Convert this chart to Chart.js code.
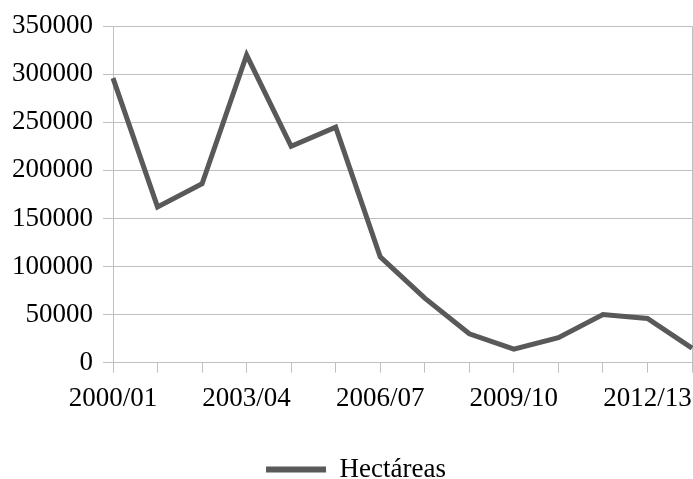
<!DOCTYPE html>
<html><head><meta charset="utf-8">
<script src="https://cdn.jsdelivr.net/npm/chart.js@4"></script>
<style>html,body{margin:0;padding:0;background:#fff}#wrap{width:693px;height:479px}</style>
</head><body><div id="wrap"><canvas id="c"></canvas></div>
<script>
const categories = ["2000/01","2001/02","2002/03","2003/04","2004/05","2005/06","2006/07","2007/08","2008/09","2009/10","2010/11","2011/12","2012/13","2013/14"];
const hectareas = [296000,162000,186000,320000,225000,245000,110000,67000,30000,14000,26000,50000,46000,15000];
const seriesName = "Hectáreas";
const yTicks = [0,50000,100000,150000,200000,250000,300000,350000];

const FONT = "'Liberation Serif', 'Times New Roman', serif";
Chart.defaults.font.family = FONT;
Chart.defaults.color = '#000';

const legendShift = {
  id: 'legendShift',
  afterLayout(chart) {
    if (chart.legend) { chart.legend.left += 9; chart.legend.right += 9; }
  }
};

new Chart(document.getElementById('c'), {
  type: 'line',
  data: {
    labels: categories,
    datasets: [{
      label: seriesName,
      data: hectareas,
      borderColor: '#595959',
      backgroundColor: '#595959',
      borderWidth: 5,
      pointRadius: 0,
      tension: 0,
      borderJoinStyle: 'miter'
    }]
  },
  plugins: [legendShift],
  options: {
    responsive: true,
    maintainAspectRatio: false,
    animation: false,
    layout: { padding: { left: 2, right: 1, top: -1, bottom: -14 } },
    plugins: {
      tooltip: { enabled: false },
      legend: {
        position: 'bottom',
        labels: {
          font: { size: 27 },
          boxWidth: 60,
          boxHeight: 6,
          padding: 2,
          generateLabels: (chart) => chart.data.datasets.map((d, i) => ({
            text: d.label, fillStyle: '#595959', strokeStyle: '#595959', lineWidth: 0, datasetIndex: i, fontColor: '#000'
          }))
        }
      }
    },
    scales: {
      x: {
        offset: false,
        border: { color: '#bfbfbf', width: 1 },
        grid: {
          color: (ctx) => ctx.index === categories.length - 1 ? '#bfbfbf' : 'rgba(0,0,0,0)',
          tickColor: '#bfbfbf',
          tickLength: 10,
          lineWidth: 1
        },
        afterFit: (axis) => { axis.height += 29; axis.paddingRight = 0; },
        ticks: {
          autoSkip: false,
          maxRotation: 0,
          font: { size: 27 },
          padding: 10,
          callback: function(v, i) { return i % 3 === 0 ? categories[i] : ''; }
        }
      },
      y: {
        min: 0, max: 350000,
        afterBuildTicks: (axis) => { axis.ticks = yTicks.map(v => ({ value: v })); },
        border: { color: '#bfbfbf', width: 1 },
        grid: { color: '#bfbfbf', tickColor: '#bfbfbf', tickLength: 10, lineWidth: 1 },
        ticks: { font: { size: 27 }, padding: 10, callback: (v) => String(v) }
      }
    }
  }
});
</script></body></html>
